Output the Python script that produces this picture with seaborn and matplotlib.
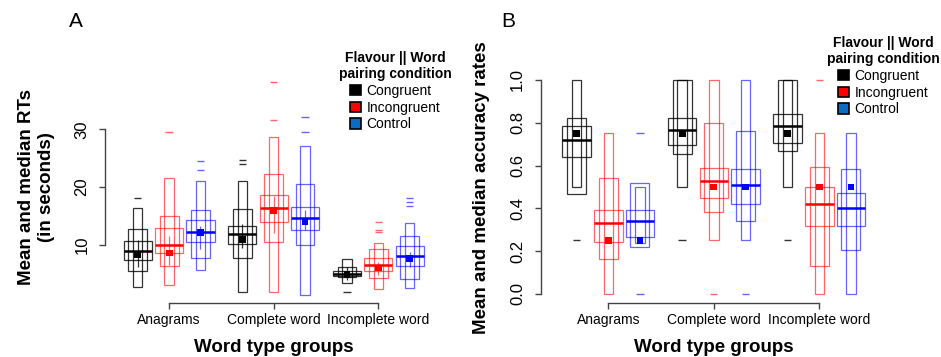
import matplotlib
matplotlib.use("Agg")
import matplotlib.pyplot as plt
import numpy as np
import pandas as pd
import seaborn as sns
from matplotlib.patches import Patch

# ---------------- data ----------------
groups = ["Anagrams", "Complete word", "Incomplete word"]
conditions = ["Congruent", "Incongruent", "Control"]

# order of the 9 entries: for each group -> Congruent, Incongruent, Control
# Panel A: response times (seconds), letter-value boxes
rt_q_lo = [7.4, 8.6, 10.5, 10.1, 14.0, 12.6, 4.6, 5.4, 6.4]
rt_q_hi = [10.6, 12.9, 14.3, 13.3, 18.6, 16.5, 5.55, 7.7, 9.8]
rt_e_lo = [5.4, 6.4, 7.7, 7.7, 10.5, 9.9, 4.4, 4.2, 4.1]
rt_e_hi = [12.7, 15.0, 16.1, 16.2, 22.2, 20.5, 6.1, 9.3, 11.6]
rt_d_lo = [2.7, 3.0, 5.7, 1.9, 1.9, 1.35, 3.4, 2.4, 2.5]
rt_d_hi = [16.3, 21.5, 21.0, 21.1, 28.6, 27.1, 7.5, 10.3, 13.75]
rt_median = [9.0, 10.05, 12.2, 11.8, 16.3, 14.7, 5.0, 6.5, 8.1]
rt_mean = [8.4, 8.6, 12.2, 11.0, 16.0, 14.0, 4.9, 6.0, 7.7]
rt_ci_lo = [6.25, 6.5, 9.25, 9.4, 12.0, 12.5, 3.9, 4.8, 6.1]
rt_ci_hi = [10.9, 11.6, 13.2, 13.6, 18.4, 16.0, 6.1, 7.1, 8.8]
rt_outliers = [[18.1], [29.6], [22.9, 24.5], [24.0, 24.6], [31.6, 38.2],
               [29.6, 32.2], [1.8], [12.2, 12.6, 13.9], [16.8, 17.5, 18.1]]

# Panel B: accuracy rates
acc_q_lo = [0.64, 0.241, 0.268, 0.696, 0.45, 0.42, 0.707, 0.318, 0.319]
acc_q_hi = [0.785, 0.391, 0.391, 0.821, 0.59, 0.584, 0.843, 0.50, 0.47]
acc_e_lo = [0.467, 0.165, 0.218, 0.653, 0.382, 0.343, 0.67, 0.131, 0.204]
acc_e_hi = [0.822, 0.54, 0.52, 1.0, 0.797, 0.763, 1.0, 0.593, 0.583]
acc_d_lo = [0.5, 0.0, 0.237, 0.5, 0.25, 0.25, 0.5, 0.0, 0.0]
acc_d_hi = [1.0, 0.75, 0.5, 1.0, 1.0, 1.0, 1.0, 0.75, 0.75]
acc_median = [0.72, 0.332, 0.34, 0.765, 0.53, 0.51, 0.785, 0.419, 0.403]
acc_mean = [0.75, 0.25, 0.25, 0.75, 0.5, 0.5, 0.75, 0.5, 0.5]
acc_outliers = [[0.25], [], [0.0, 0.75], [0.25], [0.0], [0.0], [0.25], [1.0], []]

rt_ticks = [10, 20, 30]
acc_ticks = [0.0, 0.2, 0.4, 0.6, 0.8, 1.0]
acc_tick_labels = ["0.0", "0.2", "0.4", "0.6", "0.8", "1.0"]

# ---------------- style ----------------
sns.set_style("ticks")
plt.rcParams["font.family"] = ["Liberation Sans", "DejaVu Sans"]
plt.rcParams["text.color"] = "black"
plt.rcParams["axes.labelcolor"] = "black"
plt.rcParams["xtick.labelcolor"] = "black"
plt.rcParams["ytick.labelcolor"] = "black"

edge_col = {"Congruent": (0, 0, 0, 0.8), "Incongruent": (1, 0, 0, 0.6),
            "Control": (0, 0, 1, 0.6)}
solid_col = {"Congruent": "black", "Incongruent": "red", "Control": "blue"}
legend_col = {"Congruent": "black", "Incongruent": "red", "Control": "#0a6cc4"}
offset = {"Congruent": -0.3, "Incongruent": 0.0, "Control": 0.3}
widths = {"q": 0.27, "e": 0.18, "d": 0.09}

W, H = 941, 357
fig = plt.figure(figsize=(W / 100, H / 100), dpi=100)


def px_axes(left, top, right, bottom):
    return fig.add_axes([left / W, 1 - bottom / H, (right - left) / W, (bottom - top) / H])


def frame(q_lo, q_hi, e_lo, e_hi, d_lo, d_hi, med, mean, ci_lo=None, ci_hi=None):
    g = [gr for gr in groups for _ in conditions]
    c = [cd for _ in groups for cd in conditions]
    df = pd.DataFrame({"group": g, "condition": c,
                       "q_lo": q_lo, "q_hi": q_hi, "e_lo": e_lo, "e_hi": e_hi,
                       "d_lo": d_lo, "d_hi": d_hi, "median": med, "mean": mean})
    if ci_lo is not None:
        df["ci_lo"] = ci_lo
        df["ci_hi"] = ci_hi
    df["pos"] = [groups.index(gr) + offset[cd] for gr, cd in zip(g, c)]
    return df


def draw(ax, df, outliers):
    ecols = [edge_col[c] for c in df["condition"]]
    scols = [solid_col[c] for c in df["condition"]]
    for lvl in ["d", "e", "q"]:
        ax.bar(df["pos"], df[f"{lvl}_hi"] - df[f"{lvl}_lo"], bottom=df[f"{lvl}_lo"],
               width=widths[lvl], fill=False, edgecolor=ecols, linewidth=0.9)
    if "ci_lo" in df:
        ax.vlines(df["pos"], df["ci_lo"], df["ci_hi"], colors=ecols, linewidth=0.9)
    ax.hlines(df["median"], df["pos"] - widths["q"] / 2, df["pos"] + widths["q"] / 2,
              colors=scols, linewidth=1.8, zorder=4)
    sns.scatterplot(data=df, x="pos", y="mean", hue="condition", palette=solid_col,
                    marker="s", s=24, linewidth=0, legend=False, ax=ax, zorder=5)
    for p, c, vals in zip(df["pos"], df["condition"], outliers):
        if vals:
            ax.hlines(vals, p - 0.035, p + 0.035, colors=[edge_col[c]], linewidth=1.0)


def style(ax, yticks, yticklabels, ylim, xlim, ybounds):
    ax.set_xlim(*xlim)
    ax.set_ylim(*ylim)
    for s in ["top", "right"]:
        ax.spines[s].set_visible(False)
    for s in ["left", "bottom"]:
        ax.spines[s].set_color("#444444")
        ax.spines[s].set_linewidth(1.0)
    ax.spines["left"].set_bounds(*ybounds)
    ax.spines["bottom"].set_bounds(0, 2)
    ax.set_xticks(range(len(groups)))
    ax.set_xticklabels(groups, fontsize=10, color="black")
    ax.set_yticks(yticks)
    ax.set_yticklabels(yticklabels, fontsize=12, color="black")
    ax.tick_params(axis="both", direction="out", length=4.5, width=1.0, color="#444444")
    ax.tick_params(axis="x", pad=3)
    ax.tick_params(axis="y", pad=7, labelrotation=90)
    for lbl in ax.get_yticklabels():
        lbl.set_va("center")
    ax.set_xlabel("Word type groups", fontsize=13.5, fontweight="bold", color="black")
    ax.xaxis.label.set_va("center")
    ax.xaxis.set_label_coords(0.5, (302.7 - 347) / 242.8)


# ---------------- Panel A ----------------
axA = px_axes(105.3, 59.9, 442.1, 302.7)
dfA = frame(rt_q_lo, rt_q_hi, rt_e_lo, rt_e_hi, rt_d_lo, rt_d_hi, rt_median, rt_mean,
            rt_ci_lo, rt_ci_hi)
draw(axA, dfA, rt_outliers)
style(axA, rt_ticks, [str(t) for t in rt_ticks], (0, 42), (-0.61, 2.61), (10, 30))
axA.set_ylabel("Mean and median RTs\n(in seconds)", fontsize=13.5, fontweight="bold",
               linespacing=1.25, color="black")
axA.yaxis.set_label_coords((55 - 105.3) / 336.8, 0.478)

# ---------------- Panel B ----------------
axB = px_axes(541, 59.9, 886.6, 302.7)
dfB = frame(acc_q_lo, acc_q_hi, acc_e_lo, acc_e_hi, acc_d_lo, acc_d_hi, acc_median, acc_mean)
draw(axB, dfB, acc_outliers)
style(axB, acc_ticks, acc_tick_labels, (-0.0407, 1.0935), (-0.638, 2.638), (0, 1))
axB.set_ylabel("Mean and median accuracy rates", fontsize=13.5, fontweight="bold",
               color="black")
axB.yaxis.set_label_coords((490 - 541) / 345.6, 0.474)

# ---------------- legends & panel letters ----------------
handles = [Patch(facecolor=legend_col[c], edgecolor="black", linewidth=1.2) for c in conditions]
for cx, top in [(395, 44), (883, 29)]:
    leg = fig.legend(handles, conditions, title="Flavour || Word\npairing condition",
                     loc="upper center", bbox_to_anchor=(cx / W, 1 - top / H),
                     frameon=False, fontsize=10,
                     title_fontproperties={"weight": "bold", "size": 10},
                     handlelength=0.8, handleheight=0.8, handletextpad=0.4,
                     labelspacing=0.2, borderpad=0, alignment="center")
    leg.get_title().set_multialignment("center")
    leg.get_title().set_color("black")
    for t in leg.get_texts():
        t.set_color("black")

fig.text(76 / W, 1 - 21.7 / H, "A", fontsize=15, ha="center", va="center")
fig.text(508 / W, 1 - 21.7 / H, "B", fontsize=15, ha="center", va="center")

fig.savefig("out.png", dpi=100)
